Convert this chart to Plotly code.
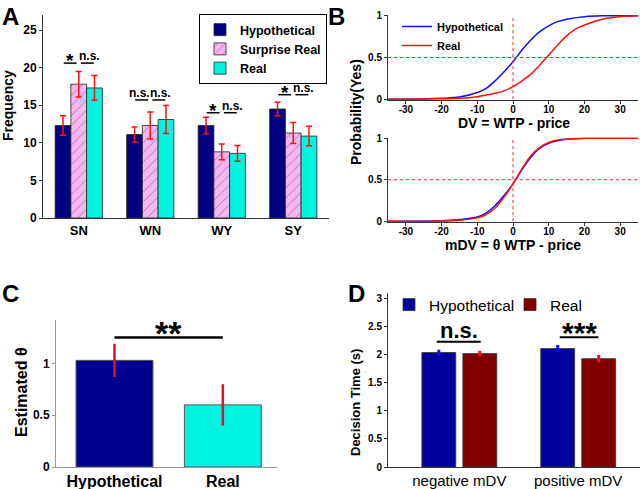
import plotly.graph_objects as go

# ---- panel A: choice frequency ----
groups_a = ["SN", "WN", "WY", "SY"]
hyp_a = [12.3, 11.1, 12.3, 14.5]
hyp_a_err = [1.3, 1.0, 1.1, 0.9]
surp_a = [17.8, 12.3, 8.8, 11.3]
surp_a_err = [1.7, 1.8, 1.05, 1.4]
real_a = [17.3, 13.1, 8.6, 10.9]
real_a_err = [1.65, 1.85, 1.05, 1.3]
# significance: (group index, label left pair, label right pair, line height)
sig_a = [(0, "*", "n.s.", 20.6), (1, "n.s.", "n.s.", 15.7),
         (2, "*", "n.s.", 14.0), (3, "*", "n.s.", 16.4)]

# ---- panel B: psychometric curves ----
dv_hyp_x = [-35, -25, -20, -15, -10, -7.5, -5, -2.5, 0, 2.5, 5, 7.5, 10, 12.5, 15, 20, 25, 35]
dv_hyp_y = [0, 0.003, 0.01, 0.025, 0.08, 0.13, 0.22, 0.33, 0.45, 0.59, 0.71, 0.81, 0.88, 0.93, 0.96, 0.99, 1.0, 1.0]
dv_real_x = [-35, -25, -20, -15, -10, -7.5, -5, -2.5, 0, 2.5, 5, 7.5, 10, 12.5, 15, 17.5, 20, 25, 30, 35]
dv_real_y = [0, 0.002, 0.005, 0.01, 0.03, 0.05, 0.07, 0.1, 0.15, 0.22, 0.30, 0.41, 0.53, 0.65, 0.76, 0.84, 0.89, 0.96, 0.99, 1.0]
mdv_x = [-35, -20, -15, -10, -7.5, -5, -2.5, 0, 2.5, 5, 7.5, 10, 12.5, 15, 20, 35]
mdv_hyp_y = [0, 0.005, 0.02, 0.05, 0.10, 0.19, 0.31, 0.45, 0.62, 0.77, 0.88, 0.94, 0.97, 0.99, 1.0, 1.0]
mdv_real_y = [0, 0.003, 0.012, 0.04, 0.08, 0.16, 0.29, 0.45, 0.63, 0.79, 0.89, 0.95, 0.98, 0.99, 1.0, 1.0]
dv_ticks = [-30, -20, -10, 0, 10, 20, 30]

# ---- panel C: estimated theta ----
cond_c = ["Hypothetical", "Real"]
theta = [1.03, 0.60]
theta_err = [0.16, 0.20]

# ---- panel D: decision time ----
groups_d = ["negative mDV", "positive mDV"]
dt_hyp = [2.04, 2.11]
dt_hyp_err = [0.05, 0.065]
dt_real = [2.02, 1.93]
dt_real_err = [0.05, 0.065]
sig_d = [(0, "n.s.", 2.23, -0.19, 0.18), (1, "***", 2.31, -0.155, 0.17)]

NAVY = "#000080"
PINK = "#F7B6F2"
CYAN = "#00F5E1"
FONT = "Liberation Sans, Arial, sans-serif"

fig = go.Figure()

# panel A bars
for name, vals, errs, off, extra in [
    ("Hypothetical", hyp_a, hyp_a_err, -0.33, dict(color=NAVY)),
    ("Surprise Real", surp_a, surp_a_err, -0.11,
     dict(color=PINK, pattern=dict(shape="/", fgcolor="#3a3a3a", bgcolor=PINK, size=7, solidity=0.12))),
    ("Real", real_a, real_a_err, 0.11, dict(color=CYAN)),
]:
    fig.add_trace(go.Bar(
        x=list(range(len(groups_a))), y=vals, name=name, width=0.22, offset=off,
        marker=dict(line=dict(color="#222", width=0.8), **extra),
        error_y=dict(type="data", array=errs, color="#FF1010", thickness=1.5, width=3),
        xaxis="x", yaxis="y", legend="legend"))

# panel B curves
fig.add_trace(go.Scatter(x=dv_hyp_x, y=dv_hyp_y, mode="lines", name="Hypothetical",
                         line=dict(color="#1010FF", width=1.5, shape="spline"),
                         xaxis="x2", yaxis="y2", legend="legend2"))
fig.add_trace(go.Scatter(x=dv_real_x, y=dv_real_y, mode="lines", name="Real",
                         line=dict(color="#FF1010", width=1.5, shape="spline"),
                         xaxis="x2", yaxis="y2", legend="legend2"))
fig.add_trace(go.Scatter(x=mdv_x, y=mdv_hyp_y, mode="lines", showlegend=False,
                         line=dict(color="#1010FF", width=1.5, shape="spline"),
                         xaxis="x3", yaxis="y3"))
fig.add_trace(go.Scatter(x=mdv_x, y=mdv_real_y, mode="lines", showlegend=False,
                         line=dict(color="#FF1010", width=1.5, shape="spline"),
                         xaxis="x3", yaxis="y3"))

# panel C bars
fig.add_trace(go.Bar(
    x=[0, 1], y=theta, width=0.71, offset=-0.355, showlegend=False,
    marker=dict(color=["#000090", CYAN], line=dict(color="#555", width=1)),
    error_y=dict(type="data", array=theta_err, color="#E0102A", thickness=2.5, width=0),
    xaxis="x4", yaxis="y4"))

# panel D bars
fig.add_trace(go.Bar(
    x=[0, 1], y=dt_hyp, name="Hypothetical", width=0.285, offset=-0.315,
    marker=dict(color="#00009C", line=dict(color="#333", width=0.8)),
    error_y=dict(type="data", array=dt_hyp_err, color="#1010FF", thickness=3, width=0),
    xaxis="x5", yaxis="y5", legend="legend3"))
fig.add_trace(go.Bar(
    x=[0, 1], y=dt_real, name="Real", width=0.285, offset=0.03,
    marker=dict(color="#800000", line=dict(color="#333", width=0.8)),
    error_y=dict(type="data", array=dt_real_err, color="#FF1010", thickness=3, width=0),
    xaxis="x5", yaxis="y5", legend="legend3"))

shapes = []
annotations = []

# significance marks A
for gi, left, right, yl in sig_a:
    for x0, x1, lab, nudge in [(gi - 0.21, gi - 0.03, left, -2), (gi + 0.03, gi + 0.21, right, 2)]:
        shapes.append(dict(type="line", xref="x", yref="y", x0=x0, x1=x1, y0=yl, y1=yl,
                           line=dict(color="black", width=1.5)))
        big = lab == "*"
        annotations.append(dict(xref="x", yref="y", x=(x0 + x1) / 2, y=yl, xshift=0 if big else nudge,
                                yshift=-10 if big else -2,
                                text=lab, showarrow=False, yanchor="bottom",
                                font=dict(size=19 if big else 12, weight="bold", color="black")))

# reference lines B
for xa, ya in [("x2", "y2"), ("x3", "y3")]:
    shapes.append(dict(type="line", xref=xa, yref=ya, x0=-35, x1=35, y0=0.5, y1=0.5,
                       line=dict(color="#FF2020", width=1, dash="dot")))
    shapes.append(dict(type="line", xref=xa, yref=ya, x0=0, x1=0, y0=0, y1=1.01,
                       line=dict(color="#FF2020", width=1, dash="dot")))

# significance C
shapes.append(dict(type="line", xref="x4", yref="y4", x0=0, x1=1, y0=1.25, y1=1.25,
                   line=dict(color="black", width=2.5)))
annotations.append(dict(xref="x4", yref="y4", x=0.5, y=1.25, yshift=-16, text="**", showarrow=False,
                        yanchor="bottom", font=dict(size=34, weight="bold", color="black")))

# significance D
for gi, lab, yl, a0, a1 in sig_d:
    shapes.append(dict(type="line", xref="x5", yref="y5", x0=gi + a0, x1=gi + a1, y0=yl, y1=yl,
                       line=dict(color="black", width=2)))
    annotations.append(dict(xref="x5", yref="y5", x=gi + (a0 + a1) / 2, y=yl,
                            yshift=-14 if lab == "***" else -3,
                            text=lab, showarrow=False, yanchor="bottom",
                            font=dict(size=30 if lab == "***" else 22, weight="bold", color="black")))

# panel letters
for lab, px, py in [("A", 0, 1), ("B", 326, 1), ("C", 0, 278), ("D", 346, 278)]:
    annotations.append(dict(xref="paper", yref="paper", x=px / 640, y=1 - py / 489, text=lab,
                            showarrow=False, xanchor="left", yanchor="top",
                            font=dict(size=24, weight="bold", color="black")))

# axis titles as free text
for lab, px, py, size, ang in [("Frequency", 8, 106, 14, -90), ("Probability(Yes)", 356, 112, 14, -90),
                               ("Estimated <b>θ</b>", 21, 392, 16, -90),
                               ("Decision Time (s)", 355, 403, 13, -90),
                               ("DV = WTP - price", 514, 123, 14, 0),
                               ("mDV = θ WTP - price", 513, 245, 14, 0)]:
    annotations.append(dict(xref="paper", yref="paper", x=px / 640, y=1 - py / 489, text=lab,
                            textangle=ang, showarrow=False, xanchor="center", yanchor="middle",
                            font=dict(size=size, weight="bold", color="black")))

axis_base = dict(showgrid=False, zeroline=False, showline=True, linecolor="#333", linewidth=1,
                 ticks="outside", ticklen=3, tickcolor="#333", mirror=False, automargin=False)

fig.update_layout(
    width=640, height=489, margin=dict(l=0, r=0, t=0, b=0),
    paper_bgcolor="white", plot_bgcolor="white", barmode="overlay",
    font=dict(family=FONT, color="black"),
    shapes=shapes, annotations=annotations,
    xaxis=dict(axis_base, domain=[43 / 640, 329 / 640], range=[-0.5, 3.5], tickvals=[0, 1, 2, 3],
               ticktext=groups_a, ticks="", tickfont=dict(size=13, weight="bold"), anchor="y"),
    yaxis=dict(axis_base, domain=[1 - 218 / 489, 1 - 15 / 489], range=[0, 27], dtick=5,
               tickfont=dict(size=12, weight="bold"), anchor="x"),
    xaxis2=dict(axis_base, domain=[388 / 640, 638 / 640], range=[-35, 35], tickvals=dv_ticks,
                ticktext=[str(t) for t in dv_ticks], tickfont=dict(size=10, weight="bold"),
                ticklabelstandoff=-3, anchor="y2"),
    yaxis2=dict(axis_base, domain=[1 - 100 / 489, 1 - 15 / 489], range=[-0.01, 1.01],
                tickvals=[0, 0.5, 1], tickfont=dict(size=10, weight="bold"), anchor="x2"),
    xaxis3=dict(axis_base, domain=[388 / 640, 638 / 640], range=[-35, 35], tickvals=dv_ticks,
                ticktext=[str(t) for t in dv_ticks], tickfont=dict(size=10, weight="bold"),
                ticklabelstandoff=-3, anchor="y3"),
    yaxis3=dict(axis_base, domain=[1 - 222 / 489, 1 - 137.5 / 489], range=[-0.01, 1.01],
                tickvals=[0, 0.5, 1], tickfont=dict(size=10, weight="bold"), anchor="x3"),
    xaxis4=dict(axis_base, domain=[56 / 640, 277 / 640], range=[-0.54, 1.5], tickvals=[0, 1],
                ticktext=cond_c, ticks="", linecolor="#999", tickfont=dict(size=16, weight="bold"),
                anchor="y4"),
    yaxis4=dict(axis_base, domain=[1 - 467 / 489, 1 - 320 / 489], range=[0, 1.42],
                tickvals=[0, 0.5, 1], linecolor="#999", tickcolor="#999",
                tickfont=dict(size=12, weight="bold"), anchor="x4"),
    xaxis5=dict(axis_base, domain=[388 / 640, 1.0], range=[-0.6, 1.52], tickvals=[0, 1],
                ticktext=groups_d, ticks="", tickfont=dict(size=15), anchor="y5"),
    yaxis5=dict(axis_base, domain=[1 - 467 / 489, 1 - 293 / 489], range=[0, 3.1], dtick=0.5,
                tickfont=dict(size=10, weight="bold"), anchor="x5"),
    legend=dict(x=199 / 640, y=1 - 14 / 489, xanchor="left", yanchor="top",
                bordercolor="black", borderwidth=1, bgcolor="white",
                font=dict(size=12.5, weight="bold"), tracegroupgap=0, itemwidth=30),
    legend2=dict(x=397 / 640, y=1 - 12 / 489, xanchor="left", yanchor="top",
                 bgcolor="rgba(0,0,0,0)", font=dict(size=11, weight="bold")),
    # keep this legend's box inside the paper so it does not push the right margin
    legend3=dict(x=389 / 640, y=1 - 288 / 489, xanchor="left", yanchor="top",
                 orientation="h", bgcolor="rgba(0,0,0,0)", font=dict(size=15.5),
                 entrywidth=76, entrywidthmode="pixels"),
)

# the page body has a default margin and may scroll; pin the figure to the window corner
page_fix = ("document.documentElement.style.overflow='hidden';"
            "document.body.style.overflow='hidden';"
            "document.body.style.margin='0px';")
fig.write_html("out.html", config={"displayModeBar": False, "responsive": False},
               post_script=page_fix)
